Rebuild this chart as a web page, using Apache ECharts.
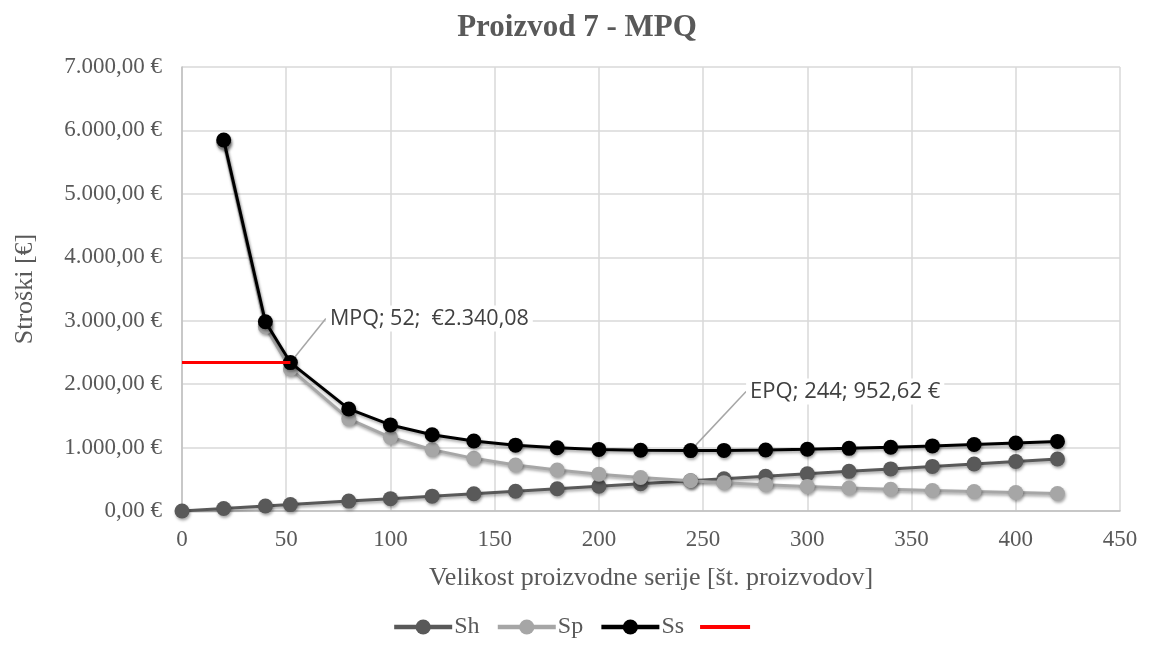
<!DOCTYPE html>
<html>
<head>
<meta charset="utf-8">
<script src="https://cdn.jsdelivr.net/npm/echarts@6/dist/echarts.min.js"></script>
<style>html,body{margin:0;padding:0;background:#fff}#c{width:1154px;height:645px}</style>
</head>
<body>
<div id="c"></div>
<script>
var seriesX = [0, 20, 40, 52, 80, 100, 120, 140, 160, 180, 200, 220, 244, 260, 280, 300, 320, 340, 360, 380, 400, 420];
var shValues = [0, 39, 78, 101, 156, 195, 234, 273, 312, 351, 390, 429, 476, 508, 547, 586, 625, 664, 703, 742, 781, 820];
var spValues = [null, 5811, 2905, 2239, 1453, 1162, 968, 830, 726, 646, 581, 528, 476, 447, 415, 387, 363, 342, 323, 306, 291, 277];
var ssValues = [null, 5850, 2983, 2340.08, 1609, 1357, 1202, 1103, 1038, 997, 971, 957, 952.62, 955, 962, 973, 988, 1006, 1026, 1048, 1072, 1097];
var mpqX = [0, 52];
var mpqY = [2340.08, 2340.08];
var yTicks = [0, 1000, 2000, 3000, 4000, 5000, 6000, 7000];
var seriesNames = ['Sh', 'Sp', 'Ss', ' '];

function pairs(xs, ys) {
  var out = [];
  for (var i = 0; i < xs.length; i++) if (ys[i] !== null) out.push([xs[i], ys[i]]);
  return out;
}
function euro(v) {
  var s = v.toFixed(2).split('.');
  var int = s[0].replace(/\B(?=(\d{3})+(?!\d))/g, '.');
  return int + ',' + s[1] + ' €';
}
var serif = '"Liberation Serif", "DejaVu Serif", serif';
var sans = '"Open Sans", "Noto Sans", sans-serif';
var grey = '#595959';
var shadow = {shadowBlur: 3, shadowColor: 'rgba(0,0,0,0.35)', shadowOffsetX: 1, shadowOffsetY: 2};

var ssData = pairs(seriesX, ssValues).map(function (p) {
  if (p[0] === 52) {
    return {value: p, label: {show: true, formatter: 'MPQ; 52;  €2.340,08', fontSize: 21.5}, labelLine: {show: true}};
  }
  if (p[0] === 244) {
    return {value: p, label: {show: true, formatter: 'EPQ; 244; 952,62 €', fontSize: 22}, labelLine: {show: true}};
  }
  return p;
});

var lineIcon = 'path://M0,0 L0.01,0 L0.01,0.01 Z M0,7.6 L50,7.6 L50,11.4 L0,11.4 Z M0,19 L0.01,19 L0.01,18.99 Z';

var chart = echarts.init(document.getElementById('c'));
chart.setOption({
  animation: false,
  backgroundColor: '#fff',
  title: {
    text: 'Proizvod 7 - MPQ', left: 'center', top: 7,
    textStyle: {fontFamily: serif, fontSize: 31, fontWeight: 'bold', color: grey}
  },
  grid: {left: 182, right: 34, top: 67, bottom: 134},
  legend: {
    bottom: 1, left: 'center', itemWidth: 58, itemHeight: 19, itemGap: 16,
    lineStyle: {width: 4.5},
    data: [
      {name: seriesNames[0]},
      {name: seriesNames[1]},
      {name: seriesNames[2]},
      {name: seriesNames[3], icon: lineIcon}
    ],
    textStyle: {fontFamily: serif, fontSize: 24, color: grey, padding: [0, 0, 0, -3]}
  },
  xAxis: {
    type: 'value', min: 0, max: 450, interval: 50,
    name: 'Velikost proizvodne serije [št. proizvodov]', nameLocation: 'middle', nameGap: 54,
    nameTextStyle: {fontFamily: serif, fontSize: 26, color: grey},
    axisLine: {show: true, lineStyle: {color: '#bfbfbf', width: 1.5}},
    axisTick: {show: false},
    axisLabel: {fontFamily: serif, fontSize: 23, color: grey, margin: 17},
    splitLine: {show: true, lineStyle: {color: '#d9d9d9', width: 1.5}}
  },
  yAxis: {
    type: 'value', min: yTicks[0], max: yTicks[yTicks.length - 1], interval: 1000,
    name: 'Stroški [€]', nameLocation: 'middle', nameGap: 144, nameRotate: 90,
    nameTextStyle: {fontFamily: serif, fontSize: 26, color: grey},
    axisLine: {show: true, lineStyle: {color: '#bfbfbf', width: 1.5}},
    axisTick: {show: false},
    axisLabel: {fontFamily: serif, fontSize: 23, color: grey, margin: 20, formatter: euro},
    splitLine: {show: true, lineStyle: {color: '#d9d9d9', width: 1.5}}
  },
  series: [
    {
      name: seriesNames[0], type: 'line', data: pairs(seriesX, shValues),
      symbol: 'circle', symbolSize: 15, color: '#595959',
      lineStyle: Object.assign({width: 3, color: '#595959'}, shadow),
      itemStyle: Object.assign({color: '#595959'}, shadow), z: 2
    },
    {
      name: seriesNames[1], type: 'line', data: pairs(seriesX, spValues),
      symbol: 'circle', symbolSize: 15, color: '#a6a6a6',
      lineStyle: Object.assign({width: 3, color: '#a6a6a6'}, shadow),
      itemStyle: Object.assign({color: '#a6a6a6'}, shadow), z: 3
    },
    {
      name: seriesNames[2], type: 'line', data: ssData,
      symbol: 'circle', symbolSize: 15, color: '#000',
      lineStyle: Object.assign({width: 3, color: '#000'}, shadow),
      itemStyle: Object.assign({color: '#000'}, shadow), z: 4,
      label: {
        show: false, position: 'right', distance: 0,
        fontFamily: sans, fontSize: 21, color: '#404040', backgroundColor: '#fff', padding: [2, 4]
      },
      labelLine: {show: false, lineStyle: {color: '#a6a6a6', width: 1.5}},
      labelLayout: function (params) {
        if (params.dataIndex === 2) return {dx: 28, dy: -44};
        if (params.dataIndex === 11) return {dx: 48, dy: -59};
        return {};
      }
    },
    {
      name: seriesNames[3], type: 'line', data: pairs(mpqX, mpqY),
      symbol: 'none', color: '#ff0000',
      lineStyle: {width: 3, color: '#ff0000'}, z: 5
    }
  ]
});
</script>
</body>
</html>
